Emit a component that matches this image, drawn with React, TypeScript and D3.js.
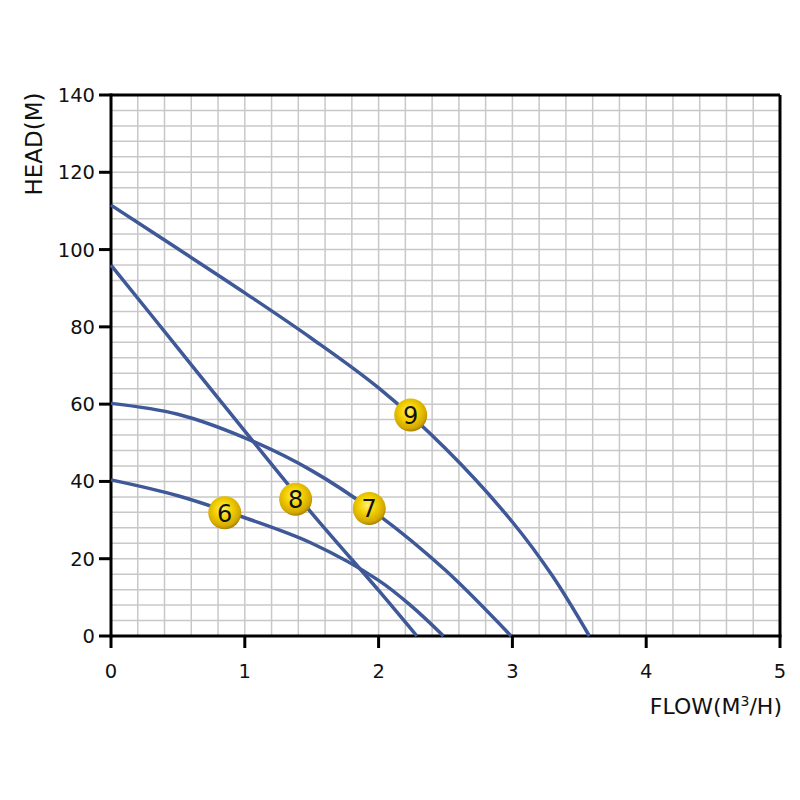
import * as d3 from "d3";

// pump curves (flow m3/h -> head m)
const curve6Q = [0, 0.5, 1.0, 1.5, 2.0, 2.25, 2.485];
const curve6H = [40.4, 36.3, 30.6, 24.0, 14.4, 7.6, 0];

const curve7Q = [0, 0.5, 1.0, 1.5, 2.0, 2.5, 2.99];
const curve7H = [60.2, 57.4, 51.3, 42.8, 31.3, 17, 0];

const curve8Q = [0, 0.5, 1.0, 1.5, 2.0, 2.286];
const curve8H = [96, 74.5, 53, 31.8, 11.8, 0];

const curve9Q = [0, 0.5, 1.0, 1.5, 2.0, 2.5, 3.0, 3.3, 3.575];
const curve9H = [111.5, 100.2, 88.8, 77, 64.2, 48.5, 29.5, 15.5, 0];

const markerLabels = ["6", "8", "7", "9"];
const markerQ = [0.85, 1.38, 1.93, 2.24];
const markerH = [31.9, 35.4, 33, 57.2];

const xTicks = [0, 1, 2, 3, 4, 5];
const yTicks = [0, 20, 40, 60, 80, 100, 120, 140];

const W = 800;
const H = 800;
const left = 111;
const right = 780;
const top = 95;
const bottom = 636;
const font = "'DejaVu Sans', Verdana, sans-serif";

export default function App() {
  const x = d3.scaleLinear().domain([0, 5]).range([left, right]);
  const y = d3.scaleLinear().domain([0, 140]).range([bottom, top]);

  const line = d3
    .line<[number, number]>()
    .x(d => x(d[0]))
    .y(d => y(d[1]))
    .curve(d3.curveCatmullRom.alpha(0.5));

  const curves = [
    [curve6Q, curve6H],
    [curve7Q, curve7H],
    [curve8Q, curve8H],
    [curve9Q, curve9H],
  ].map(([q, h]) => q.map((v, i) => [v, h[i]] as [number, number]));

  const vGrid = d3.range(0, 5.0001, 0.2);
  const hGrid = d3.range(0, 140.0001, 4);

  return (
    <svg width={W} height={H} style={{ position: "absolute", left: 0, top: 0, background: "#fff" }}>
      <defs>
        <radialGradient id="gold" cx="45%" cy="40%" r="60%">
          <stop offset="0%" stopColor="#fff36a" />
          <stop offset="45%" stopColor="#f2d000" />
          <stop offset="85%" stopColor="#d4a800" />
          <stop offset="100%" stopColor="#a88200" />
        </radialGradient>
      </defs>
      <rect x={0} y={0} width={W} height={H} fill="#fff" />

      {/* grid */}
      {vGrid.map((g, i) => (
        <line key={"v" + i} x1={x(g)} x2={x(g)} y1={top} y2={bottom} stroke="#c8c8c8" strokeWidth={1.5} />
      ))}
      {hGrid.map((g, i) => (
        <line key={"h" + i} x1={left} x2={right} y1={y(g)} y2={y(g)} stroke="#c8c8c8" strokeWidth={1.5} />
      ))}

      {/* frame */}
      <line x1={left} x2={right} y1={top} y2={top} stroke="#000" strokeWidth={3} />
      <line x1={right} x2={right} y1={top} y2={bottom} stroke="#000" strokeWidth={3} />
      <line x1={left} x2={left} y1={top - 1.5} y2={bottom + 1.5} stroke="#000" strokeWidth={3} />
      <line x1={left} x2={right + 1.5} y1={bottom} y2={bottom} stroke="#000" strokeWidth={3} />

      {/* y ticks */}
      {yTicks.map(t => (
        <g key={"yt" + t}>
          <line x1={left - 12} x2={left} y1={y(t)} y2={y(t)} stroke="#000" strokeWidth={3} />
          <text x={left - 16} y={y(t)} dy="0.36em" textAnchor="end" fontFamily={font} fontSize={19.5} fill="#111">
            {t}
          </text>
        </g>
      ))}

      {/* x ticks */}
      {xTicks.map(t => (
        <g key={"xt" + t}>
          <line x1={x(t)} x2={x(t)} y1={bottom} y2={bottom + 12} stroke="#000" strokeWidth={3} />
          <text x={x(t)} y={bottom + 42} textAnchor="middle" fontFamily={font} fontSize={19.5} fill="#111">
            {t}
          </text>
        </g>
      ))}

      {/* axis titles */}
      <text
        transform={`translate(42, 144) rotate(-90)`}
        textAnchor="middle"
        fontFamily={font}
        fontSize={23}
        fill="#111"
      >
        HEAD(M)
      </text>
      <text x={782} y={714} textAnchor="end" fontFamily={font} fontSize={22} fill="#111">
        FLOW(M<tspan dy={-8} fontSize={14}>3</tspan>
        <tspan dy={8}>/H)</tspan>
      </text>

      {/* curves */}
      {curves.map((c, i) => (
        <path key={"c" + i} d={line(c) ?? ""} fill="none" stroke="#3e5898" strokeWidth={3.5} />
      ))}

      {/* markers */}
      {markerLabels.map((lab, i) => (
        <g key={"m" + lab} transform={`translate(${x(markerQ[i])}, ${y(markerH[i])})`}>
          <circle r={16.5} fill="url(#gold)" />
          <text dy="0.37em" textAnchor="middle" fontFamily={font} fontSize={24} fill="#111">
            {lab}
          </text>
        </g>
      ))}
    </svg>
  );
}
